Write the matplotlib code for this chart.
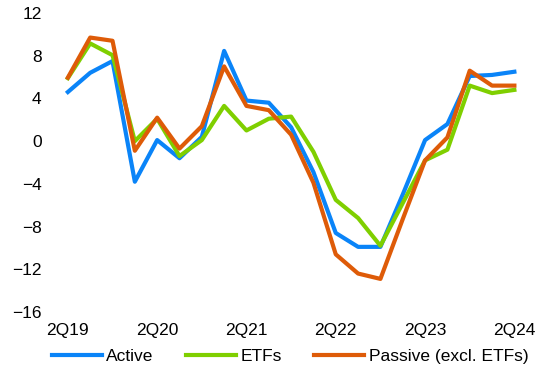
import numpy as np
import matplotlib.pyplot as plt

plt.rcParams['font.family'] = ['Liberation Sans', 'DejaVu Sans']

# quarterly values, 2Q19 .. 2Q24
quarters = ['2Q19', '3Q19', '4Q19', '1Q20', '2Q20', '3Q20', '4Q20', '1Q21',
            '2Q21', '3Q21', '4Q21', '1Q22', '2Q22', '3Q22', '4Q22', '1Q23',
            '2Q23', '3Q23', '4Q23', '1Q24', '2Q24']
active = [4.6, 6.4, 7.5, -3.8, 0.1, -1.6, 0.4, 8.45, 3.8, 3.6, 1.3, -2.9,
          -8.6, -9.9, -9.9, -5.0, 0.1, 1.6, 6.1, 6.2, 6.5]
etfs = [5.9, 9.15, 8.05, 0.0, 2.1, -1.4, 0.1, 3.3, 1.0, 2.1, 2.3, -1.0,
        -5.5, -7.2, -9.8, -5.8, -1.8, -0.8, 5.2, 4.5, 4.8]
passive = [5.95, 9.7, 9.4, -0.9, 2.2, -0.7, 1.4, 7.0, 3.3, 2.9, 0.6, -3.9,
           -10.6, -12.4, -12.9, -7.3, -1.8, 0.35, 6.6, 5.2, 5.2]

x = np.arange(len(quarters))

fig = plt.figure(figsize=(5.4, 3.69), dpi=100)
ax = fig.add_axes([50 / 540, 1 - 312 / 369, 480 / 540, 299 / 369])

ax.plot(x, active, color='#0A84F8', lw=3, label='Active')
ax.plot(x, etfs, color='#7FCF00', lw=3, label='ETFs')
ax.plot(x, passive, color='#DE5B08', lw=3, label='Passive (excl. ETFs)')

ax.set_xlim(-0.8, 20.7)
ax.set_ylim(-16, 12)
ax.set_yticks(np.arange(-16, 13, 4))
ax.set_xticks(x[::4])
ax.set_xticklabels(quarters[::4])
ax.tick_params(length=0, labelsize=12.5)
ax.tick_params(axis='y', pad=6)
ax.tick_params(axis='x', pad=8)
for s in ax.spines.values():
    s.set_visible(False)

ax.legend(loc='center', bbox_to_anchor=(0.5, -0.15), ncol=3, frameon=False,
          fontsize=12.5, handlelength=2.9, handletextpad=0.25, columnspacing=1.85)

fig.savefig('out.png', dpi=100)
